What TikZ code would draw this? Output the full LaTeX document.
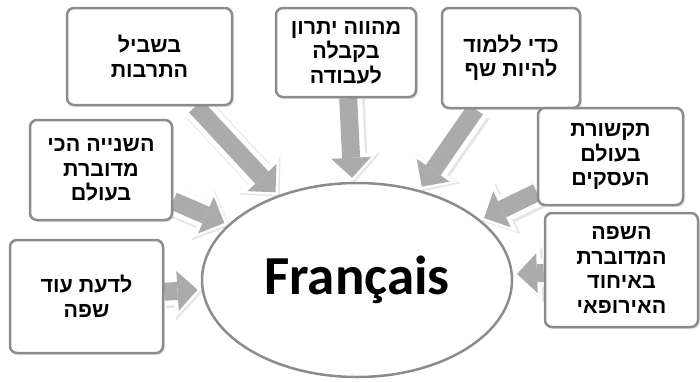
\documentclass[tikz,border=0pt]{standalone}
\usepackage{fontspec}
\setmainfont{Liberation Sans}
\newfontfamily\hebfont[Script=Hebrew]{Liberation Sans Bold}
\newfontfamily\frfont{Carlito Bold}
\TeXXeTstate=1
\usetikzlibrary{arrows.meta,shapes.geometric,shadows,backgrounds}
\definecolor{boxline}{HTML}{8C8C8C}
\definecolor{arrowgray}{HTML}{ABABAB}
\newcommand{\heb}[1]{\beginR #1\endR}

\begin{document}
\begin{tikzpicture}[x=1pt,y=-1pt,line join=round]
    % styles
    \tikzstyle{reason}=[draw=boxline,line width=2.5pt,fill=white,rounded corners=7pt,
       align=center,inner sep=0pt,font=\hebfont\fontsize{21.5}{24.5}\selectfont,
       drop shadow={opacity=0.18,shadow xshift=2pt,shadow yshift=-2pt}]
    \tikzstyle{hub}=[ellipse,draw=boxline,line width=2.5pt,fill=white,inner sep=0pt,
       minimum width=310pt,minimum height=194pt,font=\frfont\fontsize{55}{60}\selectfont]
    \tikzstyle{push}=[draw=arrowgray,line width=18pt,shorten >=4pt,
       -{Triangle[length=20pt,width=40pt,line width=0pt 0]},
       preaction={draw=black!10,line width=30pt,shorten >=0pt,
          -{Triangle[length=29pt,width=56pt,line width=0pt 0]},
          transform canvas={shift={(1.5pt,-1.5pt)}}},
       preaction={draw=white,line width=28pt,shorten >=0pt,
          -{Triangle[length=28pt,width=54pt,line width=0pt 0]}}]

    \useasboundingbox (0,0) rectangle (700,381);

    % ----------------------------------------------------
    % centre
    % ----------------------------------------------------
    \node[hub] (fr) at (357,280) {Français};

    % ----------------------------------------------------
    % reasons round it
    % ----------------------------------------------------
    \node[reason,minimum width=165pt,minimum height=97pt] (b1) at (149.5,56.5)
       {\heb{בשביל}\\\heb{התרבות}};
    \node[reason,minimum width=140pt,minimum height=89pt] (b2) at (346,52.5)
       {\heb{מהווה יתרון}\\\heb{בקבלה}\\\heb{לעבודה}};
    \node[reason,minimum width=138pt,minimum height=100pt] (b3) at (511,58)
       {\heb{כדי ללמוד}\\\heb{להיות שף}};
    \node[reason,minimum width=145pt,minimum height=97pt] (b4) at (610.5,156.5)
       {\heb{תקשורת}\\\heb{בעולם}\\\heb{העסקים}};
    \node[reason,minimum width=153pt,minimum height=114pt] (b5) at (621.5,270)
       {\heb{השפה}\\\heb{המדוברת}\\\heb{באיחוד}\\\heb{האירופאי}};
    \node[reason,minimum width=142pt,minimum height=100pt] (b6) at (101,170)
       {\heb{השנייה הכי}\\\heb{מדוברת}\\\heb{בעולם}};
    \node[reason,minimum width=153pt,minimum height=113pt] (b7) at (86.5,296.5)
       {\heb{לדעת עוד}\\\heb{שפה}};

    % arrows (behind the boxes)
    \begin{scope}[on background layer]
      \draw[push] (b1) -- (fr);
      \draw[push] (b2) -- (fr);
      \draw[push] (b3) -- (fr);
      \draw[push] (b4) -- (fr);
      \draw[push] (b5) -- (fr);
      \draw[push] (b6) -- (fr);
      \draw[push] (b7) -- (fr);
    \end{scope}
\end{tikzpicture}
\end{document}
